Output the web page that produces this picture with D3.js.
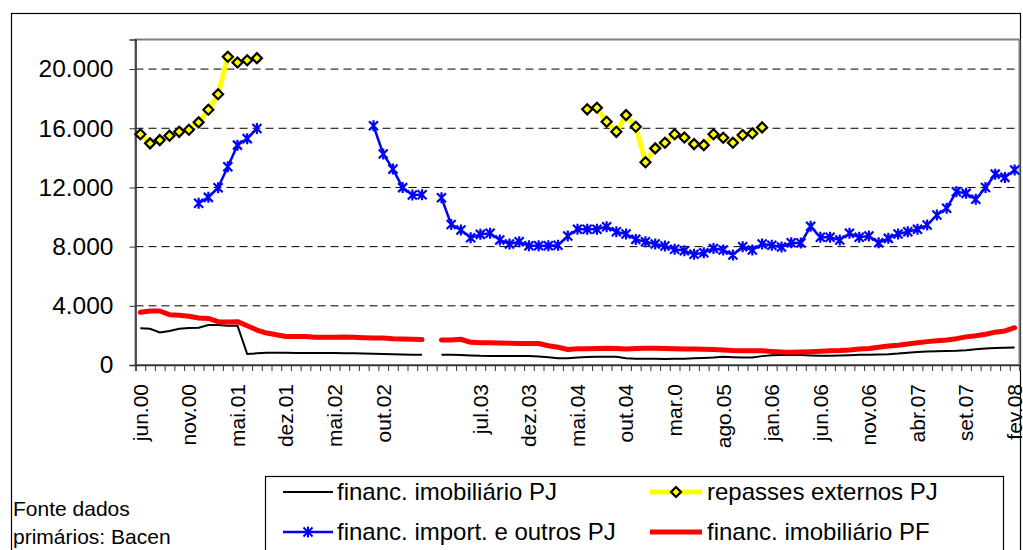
<!DOCTYPE html>
<html><head><meta charset="utf-8">
<script src="https://cdn.jsdelivr.net/npm/d3@7"></script>
<style>body{margin:0;background:#fff} svg{display:block} text{font-family:"Liberation Sans",Arial,sans-serif}</style>
</head><body><svg id="c" width="1023" height="550"></svg>
<script>
const categories = [
 "jun.00","","","","","nov.00","","","","","mai.01","","","","","dez.01","","","","","mai.02","","","","","out.02","","","","",
 "","","","","","jul.03","","","","","dez.03","","","","","mai.04","","","","","out.04","","","","","mar.0","","","","",
 "ago.05","","","","","jan.06","","","","","jun.06","","","","","nov.06","","","","","abr.07","","","","","set.07","","","","","fev.08"];
const yTicks = [0,4000,8000,12000,16000,20000];

const imobPJ = [2480,2450,2200,2300,2450,2500,2520,2700,2700,2650,2650,
 740,790,830,830,820,810,810,810,810,810,800,790,770,760,740,720,710,700,700,
 null,
 700,700,680,650,620,610,610,610,600,600,570,530,460,450,
 500,540,560,560,560,450,430,420,420,410,420,430,450,480,500,550,530,510,500,600,660,680,680,670,650,620,620,640,660,690,700,710,730,770,830,880,920,930,950,960,1000,1060,1120,1150,1170,1190];

const repassesPJ = [15600,14980,15200,15500,15760,15900,16400,17250,18300,20830,20450,20600,20740,
 null,null,null,null,null,null,null,null,null,null,null,null,null,null,null,null,null,null,null,null,null,null,null,null,null,null,null,null,null,null,null,null,null,
 17280,17390,16440,15760,16890,16100,13700,14640,15020,15600,15380,14930,14860,15600,15360,15020,15540,15650,16060,
 null,null,null,null,null,null,null,null,null,null,null,null,null,null,null,null,null,null,null,null,null,null,null,null,null,null];

const importPJ = [null,null,null,null,null,null,
 10930,11330,11980,13400,14860,15300,15990,
 null,null,null,null,null,null,null,null,null,null,null,
 16170,14260,13240,11990,11490,11510,
 null,
 11300,9500,9120,8600,8830,8900,8450,8180,8330,8060,8060,8060,8100,8720,9170,9170,9170,9350,9000,8850,8490,8330,8180,8040,7820,7720,7480,7590,7880,7770,7430,7990,7770,8180,8100,7970,8260,8250,9370,8630,8630,8450,8900,8630,8720,8260,8560,8850,9000,9170,9460,10140,10590,11710,11600,11200,12000,12900,12680,13180];

const imobPF = [3560,3650,3650,3400,3360,3300,3180,3150,2930,2900,2930,2650,2360,2160,2050,1930,1930,1930,1880,1880,1880,1900,1880,1850,1820,1820,1780,1760,1740,1720,
 null,
 1690,1690,1740,1530,1510,1510,1490,1470,1460,1460,1450,1300,1200,1050,
 1100,1100,1120,1130,1120,1080,1120,1130,1130,1120,1100,1080,1080,1060,1040,1010,980,970,970,960,920,880,860,880,900,930,960,980,1020,1080,1120,1200,1280,1340,1420,1500,1580,1640,1690,1780,1900,1980,2080,2220,2300,2520];

const seriesNames = ["financ. imobiliário PJ","repasses externos PJ","financ. import. e outros PJ","financ. imobiliário PF"];
const sourceNote = ["Fonte dados","primários: Bacen"];

const svg = d3.select("#c");
svg.append("rect").attr("width",1023).attr("height",550).attr("fill","#fff");
svg.append("rect").attr("x",11.5).attr("y",13.5).attr("width",1009).attr("height",560)
  .attr("fill","none").attr("stroke","#000").attr("stroke-width",1.2);

const L=135.5,R=1019.5,T=39.5,B=365;
const idx = categories.map((d,i)=>i);
const x = d3.scaleBand().domain(idx).range([L,R]);
const cx = i => x(i)+x.bandwidth()/2;
const xb = d3.scaleLinear().domain([0,categories.length]).range([L,R]);
const y = d3.scaleLinear().domain([0,22000]).range([B,T]);
const loc = d3.formatLocale({decimal:",",thousands:".",grouping:[3],currency:["",""]});
const fmt = loc.format(",");

// gridlines
svg.append("g").selectAll("line").data(yTicks.filter(v=>v>0)).join("line")
  .attr("x1",L).attr("x2",R).attr("y1",d=>y(d)).attr("y2",d=>y(d))
  .attr("stroke","#000").attr("stroke-width",1).attr("stroke-dasharray","8,5");

// plot border
svg.append("rect").attr("x",L).attr("y",T).attr("width",R-L).attr("height",B-T)
  .attr("fill","none").attr("stroke","#808080").attr("stroke-width",2);

// y axis
const ya = svg.append("g").attr("transform",`translate(${L},0)`)
  .call(d3.axisLeft(y).tickValues(yTicks).tickSize(6).tickPadding(16).tickFormat(fmt));
ya.select(".domain").attr("stroke","#333").attr("stroke-width",1.5);
ya.selectAll(".tick line").attr("stroke","#333");
ya.selectAll("text").attr("font-size",24.5).attr("fill","#000").attr("font-family","Liberation Sans, Arial, sans-serif");

// x axis ticks at category boundaries
const xt = svg.append("g").attr("transform",`translate(0,${B})`)
  .call(d3.axisBottom(xb).tickValues(d3.range(categories.length+1)).tickSize(6).tickFormat(""));
xt.select(".domain").attr("stroke","#333").attr("stroke-width",1.5);
xt.selectAll(".tick line").attr("stroke","#333");

// x labels
const xl = svg.append("g").attr("transform",`translate(0,${B})`)
  .call(d3.axisBottom(x).tickValues(idx.filter(i=>categories[i]!=="")).tickSize(0).tickFormat(i=>categories[i]));
xl.select(".domain").remove();
xl.selectAll("text").attr("font-size",21).attr("fill","#000").attr("font-family","Liberation Sans, Arial, sans-serif")
  .attr("text-anchor","end").attr("transform","rotate(-90)").attr("x",-19).attr("y",0).attr("dy","0.35em");

// lines
const line = d3.line().defined(d=>d.v!=null).x(d=>cx(d.i)).y(d=>y(d.v));
const toPts = arr => arr.map((v,i)=>({i,v}));
const plot = svg.append("g");

plot.append("path").datum(toPts(imobPJ)).attr("d",line).attr("fill","none").attr("stroke","#000").attr("stroke-width",2);
plot.append("path").datum(toPts(imobPF)).attr("d",line).attr("fill","none").attr("stroke","#ff0000").attr("stroke-width",5).attr("stroke-linecap","round").attr("stroke-linejoin","round");
plot.append("path").datum(toPts(importPJ)).attr("d",line).attr("fill","none").attr("stroke","#0000ff").attr("stroke-width",2.5);
plot.append("path").datum(toPts(repassesPJ)).attr("d",line).attr("fill","none").attr("stroke","#ffff00").attr("stroke-width",5);

const starPath = "M-4.5,-4.5L4.5,4.5M-4.5,4.5L4.5,-4.5M0,-5.5L0,5.5";
const diamondPath = "M0,-5L5,0L0,5L-5,0Z";
plot.append("g").selectAll("path").data(toPts(importPJ).filter(d=>d.v!=null)).join("path")
  .attr("transform",d=>`translate(${cx(d.i)},${y(d.v)})`).attr("d",starPath)
  .attr("stroke","#0000ff").attr("stroke-width",2.2).attr("fill","none");
plot.append("g").selectAll("path").data(toPts(repassesPJ).filter(d=>d.v!=null)).join("path")
  .attr("transform",d=>`translate(${cx(d.i)},${y(d.v)})`).attr("d",diamondPath)
  .attr("stroke","#000").attr("stroke-width",2.2).attr("fill","#ffff00");

// legend
svg.append("rect").attr("x",265.5).attr("y",476.5).attr("width",738).attr("height",100)
  .attr("fill","#fff").attr("stroke","#000").attr("stroke-width",1.2);
const leg = [
  {name:seriesNames[0],x0:283,x1:333,tx:337,ty:492,color:"#000",w:2,m:null},
  {name:seriesNames[1],x0:650,x1:702,tx:707,ty:492,color:"#ffff00",w:5,m:"d"},
  {name:seriesNames[2],x0:283,x1:333,tx:337,ty:532,color:"#0000ff",w:2.5,m:"s"},
  {name:seriesNames[3],x0:650,x1:702,tx:707,ty:532,color:"#ff0000",w:5,m:null}
];
const lg = svg.append("g").selectAll("g").data(leg).join("g");
lg.append("line").attr("x1",d=>d.x0).attr("x2",d=>d.x1).attr("y1",d=>d.ty).attr("y2",d=>d.ty)
  .attr("stroke",d=>d.color).attr("stroke-width",d=>d.w);
lg.filter(d=>d.m==="d").append("path").attr("d",diamondPath)
  .attr("transform",d=>`translate(${(d.x0+d.x1)/2},${d.ty})`).attr("stroke","#000").attr("stroke-width",2.2).attr("fill","#ffff00");
lg.filter(d=>d.m==="s").append("path").attr("d",starPath)
  .attr("transform",d=>`translate(${(d.x0+d.x1)/2},${d.ty})`).attr("stroke","#0000ff").attr("stroke-width",2);
lg.append("text").attr("x",d=>d.tx).attr("y",d=>d.ty).attr("dy","0.35em").attr("font-size",24).attr("fill","#000").text(d=>d.name);

svg.append("g").selectAll("text").data(sourceNote).join("text")
  .attr("x",13).attr("y",(d,i)=>509+i*28).attr("dy","0.35em").attr("font-size",21).attr("fill","#000").text(d=>d);
</script></body></html>
